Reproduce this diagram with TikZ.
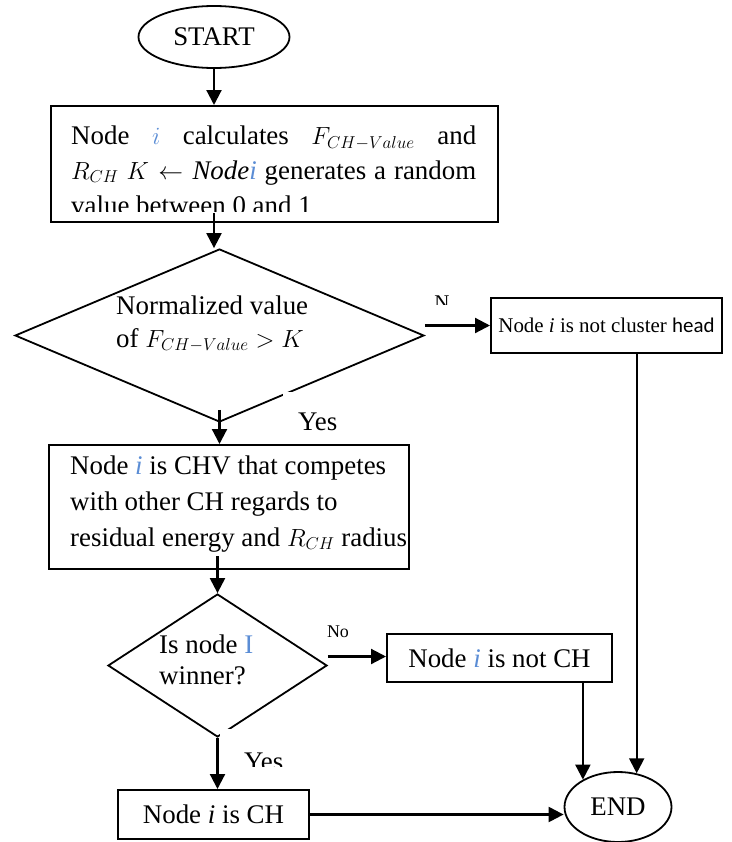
\documentclass[tikz,border=0pt]{standalone}
\usepackage{fontspec}
\setmainfont{Liberation Serif}
\newfontfamily\headfont{Carlito}
\usetikzlibrary{shapes.geometric,arrows.meta,calc}
\definecolor{iblue}{RGB}{91,141,213}

\begin{document}
\begin{tikzpicture}[x=1bp,y=-1bp,
	every node/.style={font=\fontsize{27}{35}\selectfont, inner sep=0pt},
	term/.style={draw, ellipse, line width=1.8bp},
	box/.style={draw, rectangle, line width=2bp},
	decision/.style={draw, diamond, line width=1.8bp},
	arr/.style={line width=2.2bp, -{Triangle[length=15bp,width=15bp]}},
	tag/.style={fill=white}]
			% Canvas
			\useasboundingbox (0,0) rectangle (732,842);

			% Start
			\node[term, minimum width=151bp, minimum height=62bp] (start) at (214,37) {START};

			% First step
			\node[box, minimum width=447bp, minimum height=116bp] (calc) at (274.5,164) {};
			\begin{scope}
				\clip (51,106) rectangle (498,211);
				\node[anchor=north west, text width=405bp, align=justify] (calc-txt) at (71,125.5)
					{Node \textcolor{iblue}{$i$} calculates $F_{CH-Value}$ and\linebreak
					$R_{CH}$ $K \leftarrow \mathit{Node}\textcolor{iblue}{\mathit{i}}$ generates a random\linebreak
					value between 0 and 1};
			\end{scope}

			% First test
			\node[decision, minimum width=409bp, minimum height=173bp] (test) at (219.5,335.5) {};
			\node[anchor=north west, align=left, font=\fontsize{27}{33}\selectfont] (test-txt) at (116,295.5)
				{Normalized value\\ of $F_{CH-Value} > K$};

			% Not cluster head
			\node[box, minimum width=231bp, minimum height=55bp, font=\fontsize{21}{25}\selectfont] (nothead) at (606.5,325.5)
				{Node \textit{i} is not cluster {\headfont head}};

			% Second step
			\node[box, minimum width=360bp, minimum height=124bp] (chv) at (229,507) {};
			\node[anchor=north west, align=left, font=\fontsize{27}{36}\selectfont] (chv-txt) at (70,455.5)
				{Node \textcolor{iblue}{\textit{i}} is CHV that competes\\ with other CH regards to\\ residual energy and $R_{CH}$ radius};

			% Second test
			\node[decision, minimum width=219bp, minimum height=143bp] (win) at (217.5,665.5) {};
			\node[anchor=north west, align=left, font=\fontsize{27}{31}\selectfont] (win-txt) at (159,634.5)
				{Is node \textcolor{iblue}{I}\\ winner?};

			% Outcomes
			\node[box, minimum width=225bp, minimum height=48bp] (notch) at (499.5,658) {Node \textcolor{iblue}{\textit{i}} is not CH};
			\node[box, minimum width=191bp, minimum height=49bp] (ch) at (213.5,814.5) {Node \textit{i} is CH};
			\node[term, minimum width=107bp, minimum height=70bp] (stop) at (618,807) {END};

			% Labels
			\begin{scope}
				\clip (425,285) rectangle (470,304);
				\node[anchor=base, font=\fontsize{21}{25}\selectfont] (n-lbl) at (442,309) {N};
			\end{scope}
			\node[tag, minimum width=92bp, minimum height=49bp] (yes1) at (329,416.5) {};
			\node[anchor=base west] (yes1-txt) at (298,430) {Yes};
			\node[tag, minimum width=71bp, minimum height=37bp] (no2) at (343.5,626.5) {};
			\node[anchor=base, font=\fontsize{18}{22}\selectfont] (no2-txt) at (338,637) {No};
			\node[tag, minimum width=74bp, minimum height=37bp] (yes2) at (257,747.5) {};
			\begin{scope}
				\clip (220,729) rectangle (294,766);
				\node[anchor=base west] (yes2-txt) at (244,770) {Yes};
			\end{scope}

			% Connectors
			\coordinate (n-out) at ($(test.east)+(0,-10)$);
			\coordinate (no-out) at ($(win.east)+(0,-9)$);
			\coordinate (calc-out) at ($(start |- calc.south)+(0,-10)$);
			\draw[arr] (start) -- (start |- calc.north);
			\draw[arr] (calc-out) -- (calc-out |- test.north);
			\draw[arr] (n-out) -- (n-out -| nothead.west);
			\draw[arr] ($(test.south)+(0,-13)$) -- (test.south |- chv.north);
			\draw[arr] ($(chv.south -| win.north)+(0,-14)$) -- (win.north);
			\draw[arr] (no-out) -- (no-out -| notch.west);
			\draw[arr] (win.south) -- (win.south |- ch.north);
			\draw[arr] (ch.east) -- (ch.east -| stop.west);
			\draw[arr] (stop.142 |- notch.south) -- (stop.142);
			\draw[arr] (stop.61 |- nothead.south) -- (stop.61);
\end{tikzpicture}
\end{document}
